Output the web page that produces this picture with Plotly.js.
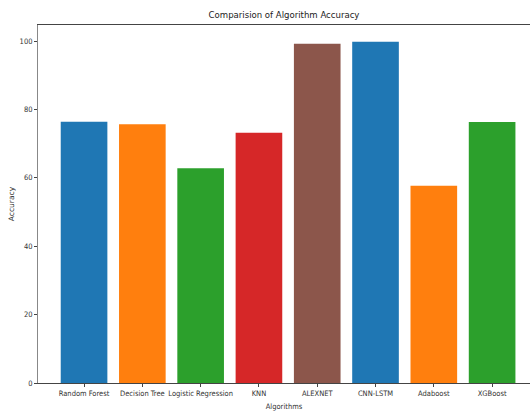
<!DOCTYPE html>
<html>
<head>
<meta charset="utf-8">
<script src="https://cdn.plot.ly/plotly-3.0.1.min.js"></script>
<style>html,body{margin:0;padding:0;background:#fff;}#chart{width:530px;height:412px;}
.main-svg text{font-stretch:condensed;}
.main-svg .ytitle{font-stretch:normal;}
</style>
</head>
<body>
<div id="chart"></div>
<script>
const algorithms = ["Random Forest", "Decision Tree", "Logistic Regression", "KNN", "ALEXNET", "CNN-LSTM", "Adaboost", "XGBoost"];
const accuracy = [76.4, 75.7, 62.8, 73.2, 99.2, 99.8, 57.7, 76.3];
const barColors = ["#1f77b4", "#ff7f0e", "#2ca02c", "#d62728", "#8c564b", "#1f77b4", "#ff7f0e", "#2ca02c"];
const yTicks = [0, 20, 40, 60, 80, 100];

const fontFam = "'DejaVu Sans Condensed', 'DejaVu Sans', sans-serif";
const idx = algorithms.map((_, i) => i);

Plotly.newPlot("chart", [{
  type: "bar",
  x: idx,
  y: accuracy,
  width: 0.8,
  marker: {color: barColors},
  hoverinfo: "skip"
}], {
  width: 530, height: 412,
  margin: {l: 38, r: 0, t: 25, b: 29, pad: 0},
  paper_bgcolor: "#fff", plot_bgcolor: "#fff",
  showlegend: false,
  font: {family: fontFam, size: 7.5, color: "#333"},
  title: {text: "Comparision of Algorithm Accuracy", x: 0.5, xref: "paper", y: 1, yref: "container", yanchor: "top", pad: {t: 11}, font: {size: 9.5, color: "#222", family: fontFam}},
  xaxis: {
    range: [-0.79, 7.65],
    tickmode: "array", tickvals: idx, ticktext: algorithms,
    tickangle: 0,
    showline: true, linecolor: "#444", linewidth: 1, mirror: true,
    ticks: "outside", ticklen: 3, tickcolor: "#444",
    showgrid: false, zeroline: false,
    tickfont: {size: 7.5},
    title: {text: "Algorithms", standoff: 6, font: {size: 7.5}}
  },
  yaxis: {
    range: [0, 104.7],
    tickmode: "array", tickvals: yTicks,
    showline: true, linecolor: "#888", linewidth: 1,
    ticks: "outside", ticklen: 3, tickcolor: "#444",
    showgrid: false, zeroline: false,
    tickfont: {size: 7.5},
    title: {text: "Accuracy", standoff: 3, font: {size: 7.5, family: "'DejaVu Sans', sans-serif"}}
  }
}, {displayModeBar: false, staticPlot: true});
</script>
</body>
</html>
